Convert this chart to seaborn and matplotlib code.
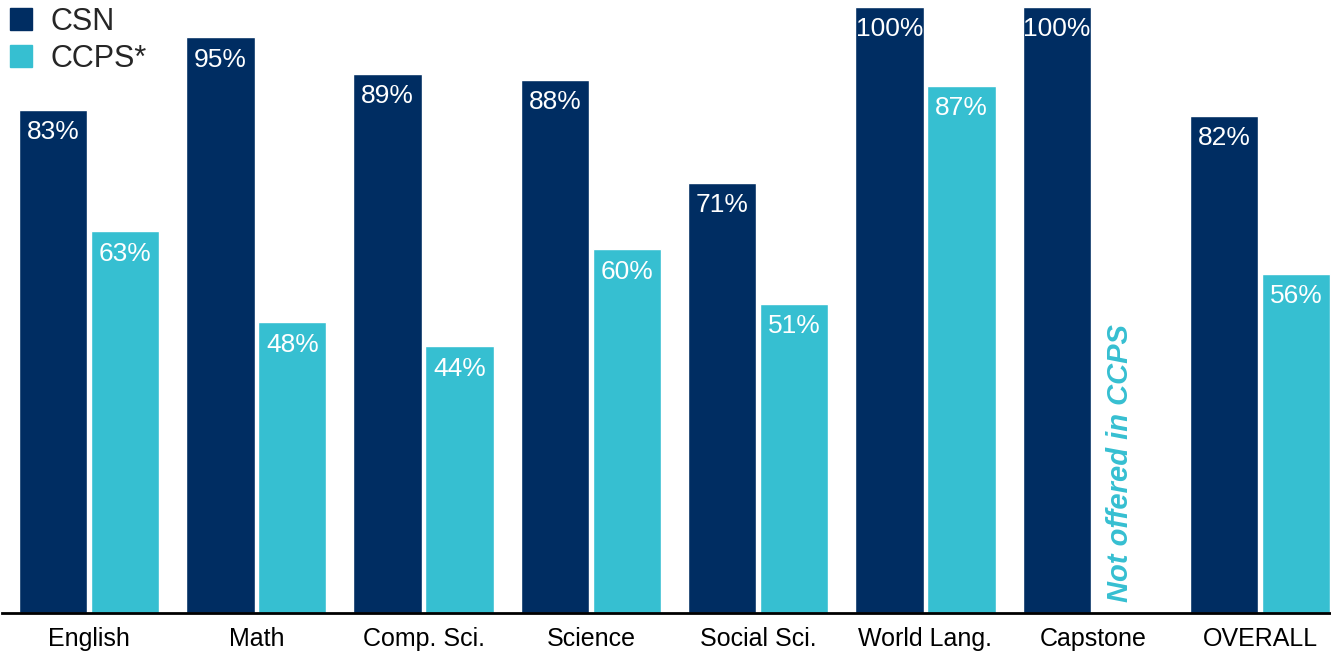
import numpy as np
import pandas as pd
import matplotlib
matplotlib.use("Agg")
import matplotlib.pyplot as plt
from matplotlib.lines import Line2D
import seaborn as sns

categories = ["English", "Math", "Comp. Sci.", "Science", "Social Sci.",
              "World Lang.", "Capstone", "OVERALL"]
csn_values = [83, 95, 89, 88, 71, 100, 100, 82]
ccps_values = [63, 48, 44, 60, 51, 87, np.nan, 56]
series_names = ["CSN", "CCPS*"]
colors = ["#002D62", "#36BFD1"]
note_text = "Not offered in CCPS"

sns.set_theme(style="white")
plt.rcParams["font.family"] = ["Liberation Sans", "DejaVu Sans"]

df = pd.DataFrame({
    "category": categories * 2,
    "series": [series_names[0]] * len(categories) + [series_names[1]] * len(categories),
    "value": csn_values + ccps_values,
})
df = df.dropna()

W, H = 1331, 656
fig = plt.figure(figsize=(W / 100, H / 100), dpi=100)
ax_left = 2 / W
ax_bottom = (H - 613) / H
ax_height = 606 / H
ax = fig.add_axes([ax_left, ax_bottom, 1 - ax_left, ax_height])

sns.barplot(data=df, x="category", y="value", hue="series", order=categories,
            hue_order=series_names, palette=colors, width=0.86, gap=0.05,
            errorbar=None, saturation=1, ax=ax, legend=False)

pitch = 167.3
ax.set_xlim(-(89 - 2) / pitch, (W - 89) / pitch)
ax.set_ylim(0, 100)
ax.set_xlabel("")
ax.set_ylabel("")
ax.set_yticks([])
for s in ["left", "top", "right"]:
    ax.spines[s].set_visible(False)
ax.spines["bottom"].set_color("black")
ax.spines["bottom"].set_linewidth(2)
ax.tick_params(axis="x", length=0, pad=10, labelsize=18, labelcolor="black")

for container in ax.containers:
    for bar in container:
        h = bar.get_height()
        if np.isnan(h):
            continue
        x = bar.get_x() + bar.get_width() / 2
        ax.annotate(f"{h:.0f}%", (x, h), xytext=(0, -7.5), textcoords="offset points",
                    ha="center", va="top", color="white", fontsize=19)

# annotation for missing CCPS Capstone bar
cap_idx = categories.index("Capstone")
ax.text(cap_idx + 0.165, 1.8, note_text, rotation=90, ha="center", va="bottom",
        color=colors[1], fontsize=21, fontweight="bold", fontstyle="italic")

handles = [Line2D([0], [0], marker="s", linestyle="none", markersize=16,
                  markerfacecolor=c, markeredgecolor=c) for c in colors]
fig.legend(handles, series_names, loc="upper left", bbox_to_anchor=(3 / W, 1 - 4 / H),
           frameon=False, fontsize=22, handlelength=1.0, handletextpad=0.45,
           labelspacing=0.22, borderpad=0.1, borderaxespad=0.0)

fig.savefig("out.png", dpi=100)
